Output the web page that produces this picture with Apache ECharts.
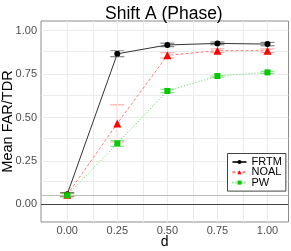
<!DOCTYPE html>
<html>
<head>
<meta charset="utf-8">
<script src="https://cdn.jsdelivr.net/npm/echarts@6/dist/echarts.min.js"></script>
<style>html,body{margin:0;padding:0;background:#fff;}#c{width:291px;height:251px;}</style>
</head>
<body>
<div id="c"></div>
<script>
const dVals = [0, 0.25, 0.5, 0.75, 1.0];
const frtm = [0.058, 0.867, 0.918, 0.927, 0.923];
const frtmErr = [0.010, 0.017, 0.010, 0.008, 0.010];
const noal = [0.055, 0.466, 0.858, 0.885, 0.885];
const noalErr = [0.010, 0.107, 0.015, 0.010, 0.010];
const pw = [0.052, 0.351, 0.653, 0.739, 0.760];
const pwErr = [0.010, 0.017, 0.010, 0.006, 0.006];
const xTicks = [0, 0.25, 0.5, 0.75, 1.0];
const yTicks = [0, 0.25, 0.5, 0.75, 1.0];
const xMinor = [0.125, 0.375, 0.625, 0.875];
const yMinor = [0.125, 0.375, 0.625, 0.875];
const refLines = [0, 0.05];

const FONT = 'Liberation Sans, Arial, sans-serif';
const chart = echarts.init(document.getElementById('c'), null, {renderer: 'canvas'});

function pts(vals) { return dVals.map((d, i) => [d, vals[i]]); }
function errs(vals, e) { return dVals.map((d, i) => [d, vals[i] - e[i], vals[i] + e[i]]); }
function errSeries(name, vals, e, color) {
  return {
    type: 'custom', name: name + '_err', z: 3, silent: true,
    encode: {x: 0, y: [1, 2]},
    data: errs(vals, e),
    renderItem: function (params, api) {
      const x = api.value(0), lo = api.value(1), hi = api.value(2);
      const a = api.coord([x, lo]), b = api.coord([x, hi]);
      const hw = 7;
      const st = {stroke: color, lineWidth: 1};
      return {type: 'group', children: [
        {type: 'line', shape: {x1: a[0], y1: a[1], x2: b[0], y2: b[1]}, style: st},
        {type: 'line', shape: {x1: a[0] - hw, y1: a[1], x2: a[0] + hw, y2: a[1]}, style: st},
        {type: 'line', shape: {x1: b[0] - hw, y1: b[1], x2: b[0] + hw, y2: b[1]}, style: st}
      ]};
    }
  };
}

const gridLines = [];
xTicks.concat(xMinor).forEach(v => gridLines.push({xAxis: v}));
yTicks.concat(yMinor).forEach(v => gridLines.push({yAxis: v}));
const refData = [
  {yAxis: refLines[0], lineStyle: {color: '#444', width: 1.2, type: 'solid'}},
  {yAxis: refLines[1], lineStyle: {color: '#bdbdbd', width: 1, type: 'solid'}}
];

chart.setOption({
  animation: false,
  backgroundColor: '#fff',
  textStyle: {fontFamily: FONT},
  title: {
    text: 'Shift A (Phase)', left: 100, top: 0,
    textStyle: {fontSize: 17.5, fontWeight: 'normal', color: '#000', fontFamily: FONT}
  },
  grid: {left: 41, right: 2.5, top: 21, bottom: 29, containLabel: false, outerBoundsMode: 'none',
    show: true, borderColor: '#8c8c8c', borderWidth: 1, backgroundColor: '#fff'},
  legend: {
    z: 50, zlevel: 0,
    orient: 'vertical', left: 227.5, top: 153.5,
    data: ['FRTM', 'NOAL', 'PW'],
    itemWidth: 14, itemHeight: 5, itemGap: -0.7,
    padding: [3, 4, 3, 4],
    borderColor: '#444', borderWidth: 1, backgroundColor: '#fff',
    textStyle: {fontSize: 11, color: '#000', fontFamily: FONT}
  },
  xAxis: {
    type: 'value', min: -0.131, max: 1.105,
    name: 'd', nameLocation: 'middle', nameGap: 13, nameMoveOverlap: false,
    nameTextStyle: {fontSize: 14, color: '#000', fontFamily: FONT},
    axisLine: {show: false},
    axisTick: {show: true, length: 3, lineStyle: {color: '#333'}, customValues: xTicks},
    axisLabel: {fontSize: 11, color: '#4d4d4d', margin: 3, customValues: xTicks, formatter: v => v.toFixed(2), fontFamily: FONT},
    splitLine: {show: false}
  },
  yAxis: {
    type: 'value', min: -0.102, max: 1.056,
    name: 'Mean FAR/TDR', nameLocation: 'middle', nameGap: 26, nameMoveOverlap: false,
    nameTextStyle: {fontSize: 14.5, color: '#000', fontFamily: FONT},
    axisLine: {show: false},
    axisTick: {show: true, length: 3, lineStyle: {color: '#333'}, customValues: yTicks},
    axisLabel: {fontSize: 11, color: '#4d4d4d', margin: 4, customValues: yTicks, formatter: v => v.toFixed(2), fontFamily: FONT},
    splitLine: {show: false}
  },
  series: [
    {
      type: 'line', name: '_grid', data: [], z: 1, silent: true,
      markLine: {silent: true, symbol: 'none', label: {show: false}, animation: false,
        lineStyle: {color: '#ebebeb', width: 1, type: 'solid'}, data: gridLines}
    },
    {
      type: 'line', name: '_ref', data: [], z: 2, silent: true,
      markLine: {silent: true, symbol: 'none', label: {show: false}, animation: false, data: refData}
    },
    errSeries('FRTM', frtm, frtmErr, 'rgba(60,60,60,0.75)'),
    errSeries('NOAL', noal, noalErr, 'rgba(255,90,90,0.6)'),
    errSeries('PW', pw, pwErr, 'rgba(40,200,40,0.6)'),
    {
      type: 'line', name: 'FRTM', data: pts(frtm), z: 5,
      symbol: 'circle', symbolSize: 6,
      lineStyle: {color: '#333', width: 1, type: 'solid'},
      itemStyle: {color: '#000'}
    },
    {
      type: 'line', name: 'NOAL', data: pts(noal), z: 5,
      symbol: 'triangle', symbolSize: 8,
      lineStyle: {color: 'rgba(255,80,80,0.75)', width: 1, type: [3, 2]},
      itemStyle: {color: '#ff0000'}
    },
    {
      type: 'line', name: 'PW', data: pts(pw), z: 5,
      symbol: 'rect', symbolSize: 6,
      lineStyle: {color: 'rgba(30,200,30,0.75)', width: 1, type: [1, 2]},
      itemStyle: {color: '#00cc00'}
    }
  ]
});
</script>
</body>
</html>
